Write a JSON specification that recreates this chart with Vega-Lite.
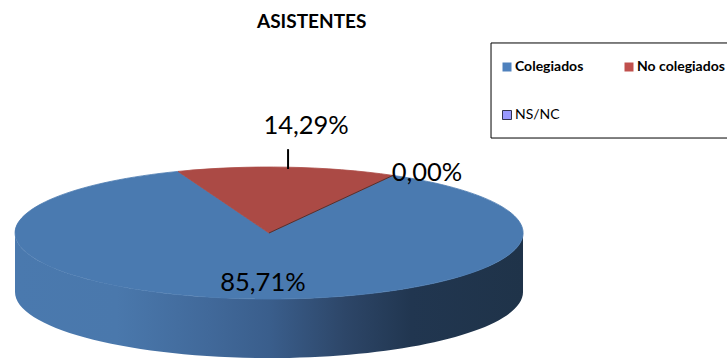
{
"$schema":"https://vega.github.io/schema/vega-lite/v6.json",
"width":727,"height":359,"padding":0,"autosize":{"type":"none"},
"background":"white",
"config":{"view":{"stroke":null},"font":"Lato","locale":{"number":{"decimal":",","thousands":".","grouping":[3],"currency":["","€"]}}},
"title":{"text":"ASISTENTES","font":"Lato","fontSize":19,"fontWeight":"bold","color":"#000000","anchor":"start","offset":-32,"dx":257,"frame":"group"},
"data":{"values":[
{"categoria":"Colegiados","valor":0.8571},
{"categoria":"No colegiados","valor":0.1429},
{"categoria":"NS/NC","valor":0}
]},
"encoding":{
"x":{"datum":0,"type":"quantitative","axis":null,"scale":{"domain":[-1.059,1.803]}},
"y":{"datum":0,"type":"quantitative","axis":null,"scale":{"domain":[-1.909,3.530]}}
},
"layer":[
{"transform":[{"filter":"datum.categoria==='Colegiados'"}],
 "mark":{"type":"rect","fill":"white","stroke":"#000000","strokeWidth":1,"clip":false},
 "encoding":{"x":{"datum":0.874,"type":"quantitative"},"x2":{"datum":1.812},"y":{"datum":2.879,"type":"quantitative"},"y2":{"datum":1.439}}},
{"transform":[{"filter":"datum.categoria==='Colegiados'"}],
 "mark":{"type":"point","filled":true,"opacity":1,"size":4,"strokeWidth":0,
  "shape":"M-254,0A254,66 0 0 0 254,0L254,59A254,66 0 0 1 -254,59Z",
  "fill":{"gradient":"linear","x1":0,"y1":0,"x2":1,"y2":0,"stops":[
   {"offset":0,"color":"#4a79ae"},{"offset":0.2,"color":"#4a78ac"},{"offset":0.38,"color":"#41699a"},{"offset":0.5,"color":"#3a5e8c"},{"offset":0.65,"color":"#2d4668"},{"offset":0.78,"color":"#213650"},{"offset":1,"color":"#1f3349"}]}}},
{"mark":{"type":"point","filled":true,"opacity":1,"size":4,"strokeWidth":0.8},
 "encoding":{
  "shape":{"field":"categoria","type":"nominal","legend":null,"scale":{"domain":["Colegiados","No colegiados","NS/NC"],"range":["M0,0L124,-57.6A254,66 0 1 1 -91,-61.6Z","M0,0L-91,-61.6A254,66 0 0 1 124,-57.6Z","M0,0L124,-57.6"]}},
  "fill":{"field":"categoria","type":"nominal","legend":null,"scale":{"domain":["Colegiados","No colegiados","NS/NC"],"range":["#4a7ab0","#ab4a45","#6a3a38"]}},
  "stroke":{"field":"categoria","type":"nominal","legend":null,"scale":{"domain":["Colegiados","No colegiados","NS/NC"],"range":["#4a7ab0","#ab4a45","#3a2a2a"]}}
 }},
{"mark":{"type":"point","shape":"square","filled":true,"opacity":1,"size":0},
 "encoding":{"color":{"field":"categoria","type":"nominal",
  "scale":{"domain":["Colegiados","No colegiados","NS/NC"],"range":["#4f81bd","#c0504d","#9999ff"]},
  "legend":{"orient":"none","legendX":500,"legendY":60,"zindex":1,"title":null,"direction":"horizontal","columns":2,"rowPadding":34,"columnPadding":38,"padding":0,"symbolType":"square","symbolSize":81,"symbolOpacity":1,"symbolStrokeWidth":1,"symbolStrokeColor":{"expr":"datum.label==='NS/NC'?'#33334d':null"},"labelFont":"Lato","labelFontSize":14,"labelColor":"#000000","labelOffset":1,"labelFontWeight":{"expr":"datum.label==='NS/NC'?400:700"},"labelLimit":150,"gridAlign":"each"}}}},
{"transform":[{"filter":"datum.categoria==='No colegiados'"}],
 "mark":{"type":"rule","stroke":"#000000","strokeWidth":2},
 "encoding":{"x":{"datum":0.075,"type":"quantitative"},"y":{"datum":1.27,"type":"quantitative"},"y2":{"datum":0.97}}},
{"transform":[{"filter":"datum.categoria==='Colegiados'"}],
 "mark":{"type":"text","fontSize":25.5,"font":"Lato","color":"#000000","align":"center","baseline":"middle"},
 "encoding":{"x":{"datum":-0.024,"type":"quantitative"},"y":{"datum":-0.758,"type":"quantitative"},"text":{"field":"valor","type":"quantitative","format":".2%"}}},
{"transform":[{"filter":"datum.categoria==='No colegiados'"}],
 "mark":{"type":"text","fontSize":25.5,"font":"Lato","color":"#000000","align":"center","baseline":"middle"},
 "encoding":{"x":{"datum":0.146,"type":"quantitative"},"y":{"datum":1.62,"type":"quantitative"},"text":{"field":"valor","type":"quantitative","format":".2%"}}},
{"transform":[{"filter":"datum.categoria==='NS/NC'"}],
 "mark":{"type":"text","fontSize":25.5,"font":"Lato","color":"#000000","align":"center","baseline":"middle"},
 "encoding":{"x":{"datum":0.622,"type":"quantitative"},"y":{"datum":0.909,"type":"quantitative"},"text":{"field":"valor","type":"quantitative","format":".2%"}}}
],
"resolve":{"legend":{"color":"independent"}}
}
